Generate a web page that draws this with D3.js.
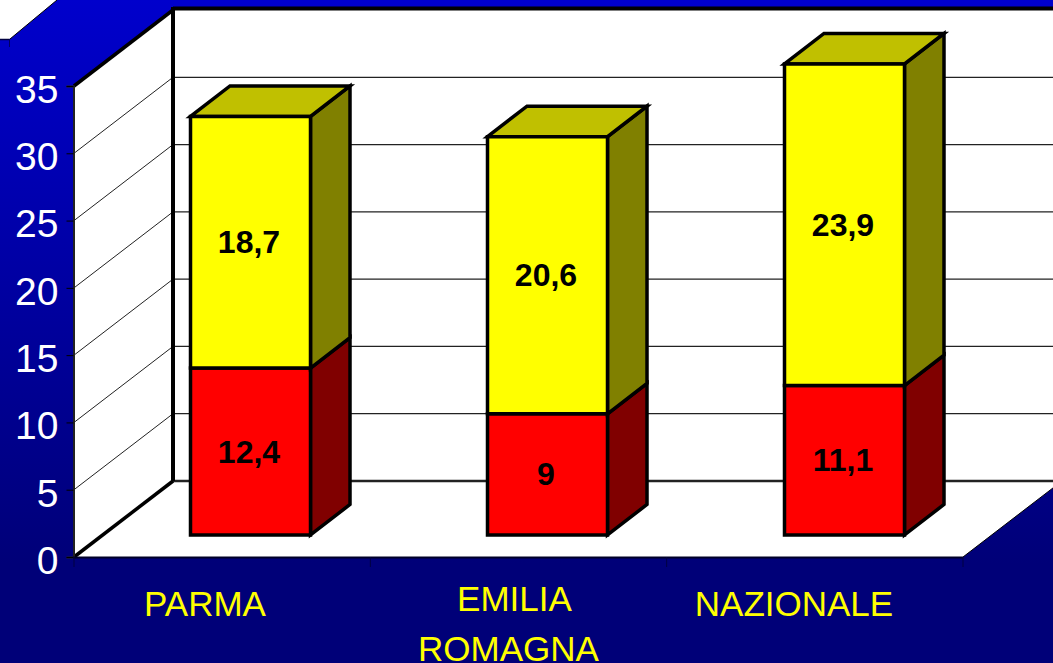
<!DOCTYPE html>
<html><head><meta charset="utf-8">
<script src="https://cdnjs.cloudflare.com/ajax/libs/d3/7.8.5/d3.min.js"></script>
<style>html,body{margin:0;padding:0;background:#000078}svg{display:block}text{font-family:"Liberation Sans",Arial,sans-serif}</style>
</head><body><script>
const categories = ["PARMA", "EMILIA|ROMAGNA", "NAZIONALE"];
const redValues = [12.4, 9, 11.1];
const yellowValues = [18.7, 20.6, 23.9];
const yTicks = [0, 5, 10, 15, 20, 25, 30, 35];
const W = 1053, H = 663;
const svg = d3.select("body").append("svg").attr("width", W).attr("height", H);
const defs = svg.append("defs");
const g = defs.append("linearGradient").attr("id", "bg").attr("x1", 0).attr("y1", 0).attr("x2", 0).attr("y2", 1);
g.append("stop").attr("offset", "0").attr("stop-color", "#0000cc");
g.append("stop").attr("offset", "0.85").attr("stop-color", "#000078");
g.append("stop").attr("offset", "1").attr("stop-color", "#000078");
svg.append("rect").attr("width", W).attr("height", H).attr("fill", "url(#bg)");

const y = d3.scaleLinear().domain([0, 35]).range([557, 86]);
const x = d3.scaleBand().domain(categories).range([74, 963]);
const xBar = d3.scaleBand().domain(categories).range([102, 993]);
const DX = 99, DY = -76;                 // full chart depth
const line = d3.line();
const poly = (pts, fill, stroke, sw) => svg.append("path").attr("d", line(pts) + "Z")
  .attr("fill", fill).attr("stroke", stroke || "none").attr("stroke-width", sw || 0).attr("stroke-linejoin", "miter");
const seg = (a, b, sw, col) => svg.append("line").attr("x1", a[0]).attr("y1", a[1]).attr("x2", b[0]).attr("y2", b[1])
  .attr("stroke", col || "#000").attr("stroke-width", sw);

// top-left white corner
poly([[0, 0], [57, 0], [10, 39], [0, 39]], "#fff");
seg([0, 39.5], [10, 39.5], 1.5, "#000040");
seg([9.5, 39], [9.5, 47], 1, "#000060");
seg([10, 39], [57, 0], 1, "#000");

// walls & floor
const x0 = x.range()[0], x1 = x.range()[1], yB = y(0), yT = y(35);
poly([[x0 + DX, yT + DY], [W + 2, yT + DY], [W + 2, yB + DY], [x0 + DX, yB + DY]], "#fff");
poly([[x0, yT], [x0 + DX, yT + DY], [x0 + DX, yB + DY], [x0, yB]], "#fff");
poly([[x0, yB], [x0 + DX, yB + DY], [x1 + DX, yB + DY], [x1, yB]], "#fff");
seg([x1, yB], [x1 + DX, yB + DY], 1, "#000");

// gridlines
yTicks.slice(1, 7).forEach(t => {
  seg([x0, y(t)], [x0 + DX, y(t) + DY], 1, "#222");
  seg([x0 + DX, y(t) + DY], [W, y(t) + DY], 1.2, "#222");
});
seg([x0 + DX, yB + DY], [W, yB + DY], 2.5, "#222");
seg([x0 + DX, yT + DY - 1.5], [W, yT + DY - 1.5], 4, "#000");
seg([x0 + DX, yT + DY - 3], [x0 + DX, yB + DY], 4, "#000");
seg([x0, yT], [x0 + DX, yT + DY], 3.5, "#000");
seg([x0, yB], [x0 + DX, yB + DY], 3.5, "#000");

// axes
const yAxis = d3.axisLeft(y).tickValues(yTicks).tickSize(7).tickPadding(8).tickFormat(d3.format("d"));
const ya = svg.append("g").attr("transform", `translate(${x0 - 0.5},0)`).call(yAxis);
ya.select(".domain").attr("stroke", "#222").attr("stroke-width", 2);
ya.selectAll(".tick line").attr("stroke", "#000").attr("stroke-width", 1);
ya.selectAll("text").attr("fill", "#fff").attr("font-size", 39).attr("dy", "0.42em")
  .attr("font-family", '"Liberation Sans",Arial,sans-serif');
seg([x0 - 1, yB + 0.5], [x1, yB + 0.5], 2, "#000028");
const catEdges = [0, 1, 2].map(i => x.step() * i + x0).concat([x1]);
catEdges.forEach(v => seg([v, yB], [v, yB + 10], 1, "#000040"));

// bars
const fz = 0.29, bw = 120, sdx = 39.5, sdy = -30.5;
const barX = c => xBar(c) + xBar.bandwidth() / 2 - bw / 2;
const base = y(0) + fz * DY;
const h = v => y(0) - y(v);
const drawBox = (c, from, val, front, side, top) => {
  const l = barX(c), r = l + bw, b = base - h(from), t = b - h(val);
  poly([[r, b], [r + sdx, b + sdy], [r + sdx, t + sdy], [r, t]], side, "#000", 3.5);
  if (top) poly([[l, t], [l + sdx, t + sdy], [r + sdx, t + sdy], [r, t]], top, "#000", 3.5);
  poly([[l, b], [r, b], [r, t], [l, t]], front, "#000", 3.5);
};
const label = (c, from, val) => {
  svg.append("text").attr("x", barX(c) + bw / 2 - 1.5).attr("y", base - h(from) - h(val) / 2 + 11)
    .attr("text-anchor", "middle").attr("font-size", 32).attr("font-weight", "bold").attr("fill", "#000")
    .text(String(val).replace(".", ","));
};
categories.forEach((c, i) => {
  drawBox(c, 0, redValues[i], "#ff0000", "#800000", null);
  drawBox(c, redValues[i], yellowValues[i], "#ffff00", "#808000", "#c0c000");
});
categories.forEach((c, i) => {
  label(c, 0, redValues[i]);
  label(c, redValues[i], yellowValues[i]);
});

// category labels
const labelCx = [205, 511.5, 794];
categories.forEach((c, i) => {
  const parts = c.split("|");
  parts.forEach((p, j) => {
    const off = parts.length > 1 ? (j === 0 ? 3 : -3) : 0;
    svg.append("text").attr("x", labelCx[i] + off)
      .attr("y", (parts.length > 1 ? 610.5 : 616) + j * 50.5)
      .attr("text-anchor", "middle").attr("font-size", 35).attr("fill", "#ffff00").text(p);
  });
});
</script></body></html>
